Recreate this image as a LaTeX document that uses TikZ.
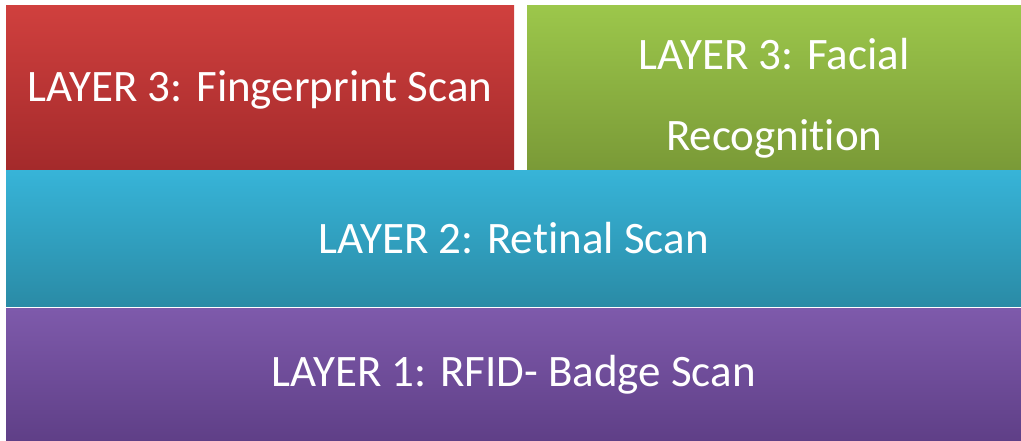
\documentclass[tikz,border=0pt]{standalone}
\usepackage{fontspec}
\setmainfont[Ligatures=NoCommon]{Carlito}
\definecolor{redT}{HTML}{D0403E}
\definecolor{redB}{HTML}{A42A2B}
\definecolor{grnT}{HTML}{9CC74B}
\definecolor{grnB}{HTML}{7A9A37}
\definecolor{cyaT}{HTML}{37B4D8}
\definecolor{cyaB}{HTML}{2A8BA6}
\definecolor{purT}{HTML}{7E5AAB}
\definecolor{purB}{HTML}{5F3F87}
\tikzset{
  layer/.style={draw=none, anchor=north west, inner sep=0pt, text=white,
    font=\fontsize{45}{78}\selectfont, align=center}
}
\begin{document}
\begin{tikzpicture}[x=1pt,y=-1pt]
\useasboundingbox (0,0) rectangle (1021,441);
\node[layer, top color=redT, bottom color=redB, minimum width=508pt, minimum height=164pt] (l3a) at (6,5) {\raisebox{-3pt}[\height][\depth]{LAYER 3: Fingerprint Scan}};
\node[layer, top color=grnT, bottom color=grnB, minimum width=494pt, minimum height=164pt] (l3b) at (527,5) {\raisebox{-7pt}[\height][\depth]{\begin{tabular}{@{}c@{}}LAYER 3: Facial\\[3pt]Recognition\end{tabular}}};
\node[layer, top color=cyaT, bottom color=cyaB, minimum width=1015pt, minimum height=136pt] (l2) at (6,170) {LAYER 2: Retinal Scan};
\node[layer, top color=purT, bottom color=purB, minimum width=1015pt, minimum height=133pt] (l1) at (6,308) {LAYER 1: RFID- Badge Scan};
\end{tikzpicture}
\end{document}
